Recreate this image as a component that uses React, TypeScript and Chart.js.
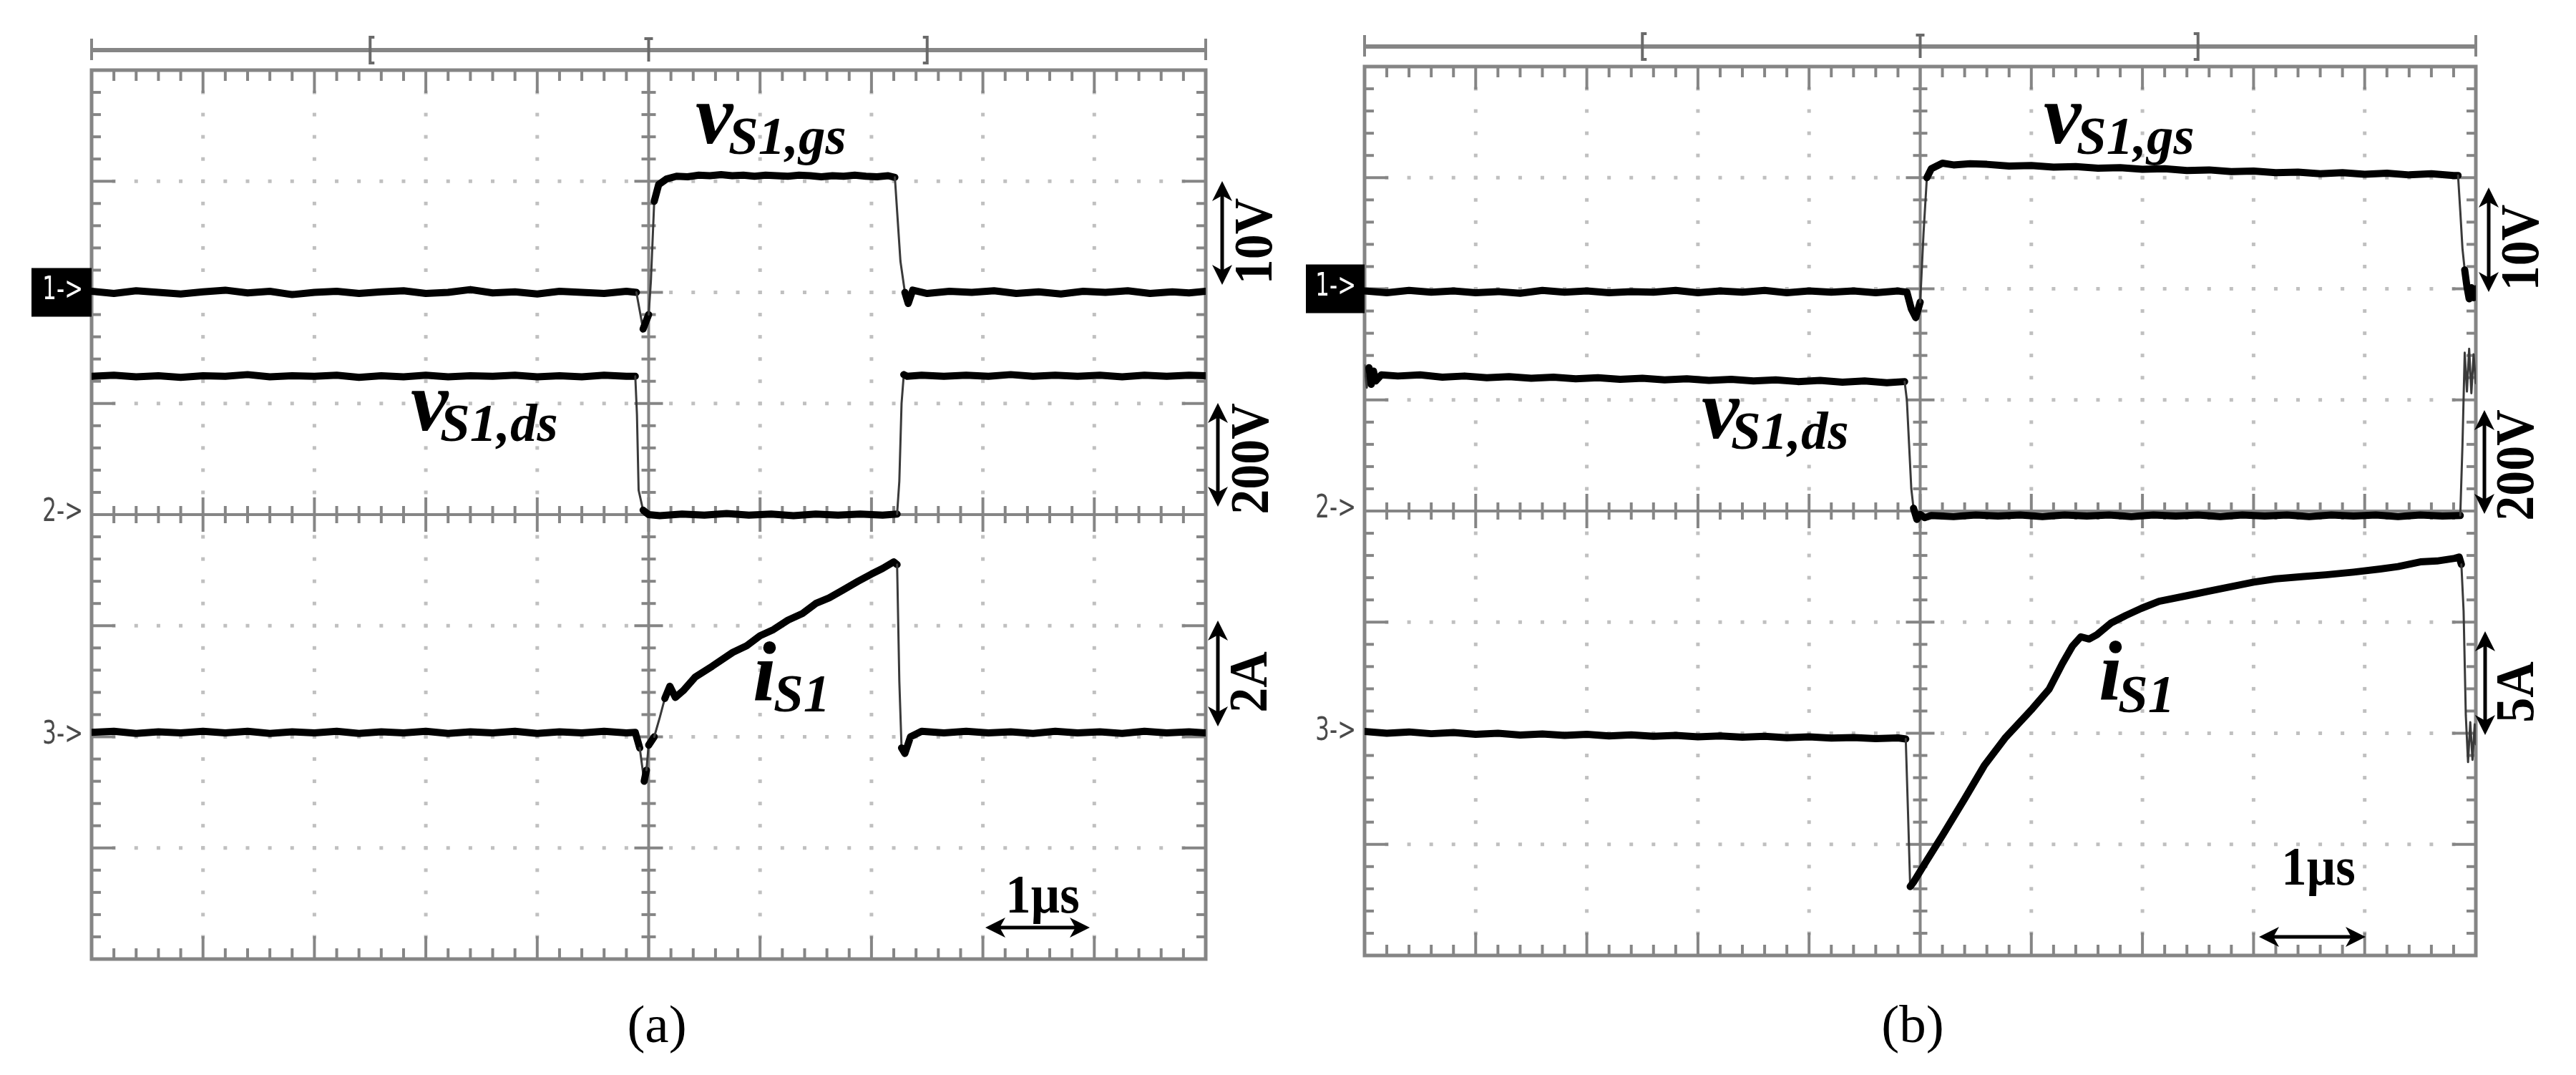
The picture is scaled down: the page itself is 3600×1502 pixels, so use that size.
import React, { useEffect, useRef } from 'react';
import { Chart, registerables } from 'chart.js';

Chart.register(...registerables);

type Pt = [number, number];

// ---------------- DATA ----------------
// time axis: µs (1 µs/div, 10 div), vertical: 8 divisions
const TIME_MIN = -5;
const TIME_MAX = 5;
const DIV_MIN = -4;
const DIV_MAX = 4;

// channel reference levels (div) for 1->, 2->, 3->
const CHANNEL_POS = [2, 0, -2];
const MARKER_TEXT = ['1->', '2->', '3->'];
const TRACE_LABELS: [string, string][] = [['v', 'S1,gs'], ['v', 'S1,ds'], ['i', 'S1']];
const TIME_TEXT = '1µs';

// panel (a)
const A_PER_DIV = [10, 200, 2];
const A_SCALE_TEXT = ['10V', '200V', '2A'];
const A_VGS: Pt[] = [
  [-5.0, 0.1], [-4.8, -0.1], [-4.6, 0.15], [-4.4, 0.0], [-4.2, -0.15], [-4.0, 0.05], [-3.8, 0.2], [-3.6, -0.05],
  [-3.4, 0.1], [-3.2, -0.2], [-3.0, 0.0], [-2.8, 0.1], [-2.6, -0.1], [-2.4, 0.05], [-2.2, 0.15], [-2.0, -0.1],
  [-1.8, 0.0], [-1.6, 0.25], [-1.4, -0.05], [-1.2, 0.05], [-1.0, -0.15], [-0.8, 0.1], [-0.6, 0.0], [-0.4, -0.1],
  [-0.2, 0.1], [-0.11, 0.0], [-0.05, -3.3], [0.0, -2.0], [0.02, 1.0], [0.05, 8.2], [0.09, 9.7], [0.16, 10.2],
  [0.25, 10.45], [0.35, 10.4], [0.45, 10.55], [0.55, 10.5], [0.65, 10.6], [0.75, 10.5], [0.85, 10.55], [0.95, 10.45],
  [1.05, 10.55], [1.15, 10.5], [1.25, 10.45], [1.35, 10.55], [1.45, 10.5], [1.55, 10.4], [1.65, 10.5], [1.75, 10.45],
  [1.85, 10.55], [1.95, 10.45], [2.05, 10.4], [2.15, 10.5], [2.21, 10.35], [2.26, 2.8], [2.3, 0.0], [2.33, -1.0],
  [2.37, 0.2], [2.5, -0.1], [2.7, 0.1], [2.9, 0.0], [3.1, 0.15], [3.3, -0.1], [3.5, 0.05], [3.7, -0.15],
  [3.9, 0.1], [4.1, 0.0], [4.3, 0.15], [4.5, -0.1], [4.7, 0.05], [4.85, -0.05], [5.0, 0.1],
];
const A_VDS: Pt[] = [
  [-5.0, 249], [-4.8, 251], [-4.6, 248], [-4.4, 250], [-4.2, 247], [-4.0, 250], [-3.8, 249], [-3.6, 252],
  [-3.4, 248], [-3.2, 250], [-3.0, 249], [-2.8, 251], [-2.6, 247], [-2.4, 250], [-2.2, 248], [-2.0, 251],
  [-1.8, 248], [-1.6, 250], [-1.4, 249], [-1.2, 251], [-1.0, 248], [-0.8, 250], [-0.6, 248], [-0.4, 251],
  [-0.2, 249], [-0.12, 249], [-0.105, 180], [-0.09, 44], [-0.05, 8], [0.0, 0], [0.1, -2], [0.3, 1],
  [0.5, -1], [0.7, 2], [0.9, -1], [1.1, 1], [1.3, -2], [1.5, 1], [1.7, -1], [1.9, 1],
  [2.1, -1], [2.23, 1], [2.25, 60], [2.27, 200], [2.29, 252], [2.32, 249], [2.45, 251], [2.65, 249],
  [2.85, 251], [3.05, 249], [3.25, 252], [3.45, 249], [3.65, 251], [3.85, 249], [4.05, 251], [4.25, 248],
  [4.45, 251], [4.65, 249], [4.85, 251], [5.0, 250],
];
const A_IS: Pt[] = [
  [-5.0, 0.08], [-4.8, 0.1], [-4.6, 0.06], [-4.4, 0.09], [-4.2, 0.07], [-4.0, 0.1], [-3.8, 0.07], [-3.6, 0.1],
  [-3.4, 0.06], [-3.2, 0.09], [-3.0, 0.07], [-2.8, 0.1], [-2.6, 0.06], [-2.4, 0.09], [-2.2, 0.07], [-2.0, 0.1],
  [-1.8, 0.06], [-1.6, 0.09], [-1.4, 0.07], [-1.2, 0.1], [-1.0, 0.06], [-0.8, 0.09], [-0.6, 0.07], [-0.4, 0.1],
  [-0.2, 0.07], [-0.12, 0.08], [-0.08, -0.2], [-0.04, -0.8], [-0.02, -0.6], [0.0, -0.15], [0.05, 0.0], [0.1, 0.35],
  [0.145, 0.69], [0.19, 0.91], [0.24, 0.71], [0.31, 0.83], [0.42, 1.08], [0.57, 1.27], [0.755, 1.52], [0.88, 1.64],
  [1.0, 1.82], [1.12, 1.93], [1.25, 2.1], [1.38, 2.22], [1.5, 2.4], [1.62, 2.5], [1.75, 2.65], [1.88, 2.8],
  [2.0, 2.93], [2.1, 3.03], [2.2, 3.15], [2.23, 3.1], [2.25, 1.0], [2.27, -0.2], [2.3, -0.3], [2.35, 0.0],
  [2.45, 0.1], [2.65, 0.07], [2.85, 0.1], [3.05, 0.07], [3.25, 0.09], [3.45, 0.06], [3.65, 0.1], [3.85, 0.07],
  [4.05, 0.09], [4.25, 0.06], [4.45, 0.1], [4.65, 0.07], [4.85, 0.09], [5.0, 0.07],
];

// panel (b)
const B_PER_DIV = [10, 200, 5];
const B_SCALE_TEXT = ['10V', '200V', '5A'];
const B_VGS: Pt[] = [
  [-5.0, -0.2], [-4.8, -0.35], [-4.6, -0.15], [-4.4, -0.3], [-4.2, -0.2], [-4.0, -0.35], [-3.8, -0.25], [-3.6, -0.4],
  [-3.4, -0.15], [-3.2, -0.3], [-3.0, -0.2], [-2.8, -0.35], [-2.6, -0.25], [-2.4, -0.3], [-2.2, -0.15], [-2.0, -0.35],
  [-1.8, -0.2], [-1.6, -0.3], [-1.4, -0.15], [-1.2, -0.35], [-1.0, -0.2], [-0.8, -0.3], [-0.6, -0.2], [-0.4, -0.35],
  [-0.2, -0.2], [-0.12, -0.3], [-0.08, -1.8], [-0.04, -2.6], [0.0, -1.2], [0.03, 5.0], [0.06, 10.0], [0.1, 10.8],
  [0.2, 11.3], [0.3, 11.15], [0.45, 11.25], [0.6, 11.2], [0.8, 11.05], [1.0, 11.1], [1.2, 10.95], [1.4, 11.0],
  [1.6, 10.85], [1.8, 10.9], [2.0, 10.75], [2.2, 10.8], [2.4, 10.65], [2.6, 10.7], [2.8, 10.55], [3.0, 10.6],
  [3.2, 10.45], [3.4, 10.5], [3.6, 10.35], [3.8, 10.45], [4.0, 10.3], [4.2, 10.4], [4.4, 10.25], [4.6, 10.35],
  [4.8, 10.2], [4.84, 10.2], [4.86, 7.0], [4.88, 3.6], [4.9, 1.7], [4.92, 0.2], [4.94, -0.9], [4.96, 0.1],
  [4.98, -0.8], [5.0, 0.0],
];
const B_VDS: Pt[] = [
  [-5.0, 262], [-4.98, 222], [-4.96, 258], [-4.94, 228], [-4.92, 252], [-4.9, 234], [-4.85, 245], [-4.7, 243],
  [-4.5, 245], [-4.3, 241], [-4.1, 243], [-3.9, 240], [-3.7, 242], [-3.5, 239], [-3.3, 241], [-3.1, 238],
  [-2.9, 240], [-2.7, 237], [-2.5, 239], [-2.3, 236], [-2.1, 238], [-1.9, 235], [-1.7, 237], [-1.5, 234],
  [-1.3, 236], [-1.1, 233], [-0.9, 235], [-0.7, 232], [-0.5, 234], [-0.3, 231], [-0.14, 233], [-0.12, 200],
  [-0.1, 120], [-0.08, 40], [-0.06, 5], [-0.03, -15], [0.0, -6], [0.04, -12], [0.1, -8], [0.3, -10],
  [0.5, -7], [0.7, -9], [0.9, -7], [1.1, -10], [1.3, -7], [1.5, -9], [1.7, -7], [1.9, -10],
  [2.1, -7], [2.3, -9], [2.5, -7], [2.7, -10], [2.9, -7], [3.1, -9], [3.3, -7], [3.5, -10],
  [3.7, -7], [3.9, -9], [4.1, -7], [4.3, -10], [4.5, -7], [4.7, -9], [4.86, -8], [4.88, 120],
  [4.9, 285], [4.92, 215], [4.94, 292], [4.96, 212], [4.98, 282], [5.0, 230],
];
const B_IS: Pt[] = [
  [-5.0, 0.08], [-4.8, 0.0], [-4.6, 0.06], [-4.4, -0.02], [-4.2, 0.03], [-4.0, -0.05], [-3.8, 0.0], [-3.6, -0.08],
  [-3.4, -0.03], [-3.2, -0.1], [-3.0, -0.05], [-2.8, -0.12], [-2.6, -0.07], [-2.4, -0.14], [-2.2, -0.1], [-2.0, -0.16],
  [-1.8, -0.12], [-1.6, -0.18], [-1.4, -0.14], [-1.2, -0.2], [-1.0, -0.16], [-0.8, -0.22], [-0.6, -0.19], [-0.4, -0.24],
  [-0.2, -0.21], [-0.13, -0.26], [-0.11, -3.5], [-0.09, -6.9], [-0.06, -6.7], [0.05, -5.8], [0.2, -4.6], [0.4, -2.95],
  [0.576, -1.46], [0.77, -0.18], [1.01, 1.11], [1.16, 1.98], [1.28, 3.14], [1.37, 3.92], [1.445, 4.34], [1.52, 4.24],
  [1.59, 4.43], [1.72, 4.97], [1.85, 5.3], [1.99, 5.62], [2.15, 5.94], [2.41, 6.2], [2.6, 6.4], [2.8, 6.6],
  [3.0, 6.8], [3.2, 6.95], [3.45, 7.05], [3.65, 7.13], [3.9, 7.25], [4.14, 7.39], [4.3, 7.5], [4.5, 7.71],
  [4.65, 7.75], [4.81, 7.87], [4.85, 7.93], [4.87, 7.6], [4.89, 5.5], [4.91, 0.8], [4.93, -1.3], [4.95, 0.5],
  [4.97, -1.2], [4.99, 0.4], [5.0, -0.5],
];

// ---------------- LAYOUT / STYLE ----------------
type PanelCfg = {
  left: number;
  padding: { left: number; right: number; top: number; bottom: number };
  traces: Pt[][];
  perDiv: number[];
  scaleText: string[];
  markerBox: { x: number; w: number };
  labelPos: { x: number; y: number; sx: number; sy: number }[];
  scaleArrows: { ax: number; y1: number; y2: number; tx: number; cy: number }[];
  timeArrow: { x1: number; x2: number; y: number; tcx: number; tby: number };
  caption: { text: string; cx: number; by: number };
};

const W = 1800;
const H = 1502;

const PANEL_A: PanelCfg = {
  left: 0,
  padding: { left: 128, right: W - 1685, top: 98, bottom: H - 1340 },
  traces: [A_VGS, A_VDS, A_IS],
  perDiv: A_PER_DIV,
  scaleText: A_SCALE_TEXT,
  markerBox: { x: 44, w: 84 },
  labelPos: [
    { x: 972, y: 200, sx: 1018, sy: 215 },
    { x: 574, y: 601, sx: 615, sy: 616 },
    { x: 1052, y: 978, sx: 1081, sy: 994 },
  ],
  scaleArrows: [
    { ax: 1708, y1: 253, y2: 398, tx: 1777, cy: 337 },
    { ax: 1702, y1: 563, y2: 708, tx: 1772, cy: 641 },
    { ax: 1702, y1: 867, y2: 1015, tx: 1770, cy: 953 },
  ],
  timeArrow: { x1: 1377, x2: 1523, y: 1296, tcx: 1457, tby: 1275 },
  caption: { text: '(a)', cx: 918, by: 1456 },
};

const PANEL_B: PanelCfg = {
  left: 1800,
  padding: { left: 107, right: W - 1660, top: 93, bottom: H - 1335 },
  traces: [B_VGS, B_VDS, B_IS],
  perDiv: B_PER_DIV,
  scaleText: B_SCALE_TEXT,
  markerBox: { x: 25, w: 82 },
  labelPos: [
    { x: 1056, y: 200, sx: 1102, sy: 215 },
    { x: 578, y: 612, sx: 619, sy: 627 },
    { x: 1133, y: 977, sx: 1160, sy: 995 },
  ],
  scaleArrows: [
    { ax: 1678, y1: 262, y2: 408, tx: 1747, cy: 346 },
    { ax: 1672, y1: 573, y2: 718, tx: 1740, cy: 650 },
    { ax: 1673, y1: 882, y2: 1027, tx: 1740, cy: 967 },
  ],
  timeArrow: { x1: 1357, x2: 1506, y: 1309, tcx: 1440, tby: 1236 },
  caption: { text: '(b)', cx: 873, by: 1456 },
};

const FRAME = '#858585';
const DOT = '#c0c0c0';
const SERIF = '"Liberation Serif", "Times New Roman", serif';
const NARROW = '"DejaVu Sans Condensed", "Liberation Sans Narrow", "DejaVu Sans", sans-serif';

function line(ctx: CanvasRenderingContext2D, x1: number, y1: number, x2: number, y2: number) {
  ctx.beginPath();
  ctx.moveTo(x1, y1);
  ctx.lineTo(x2, y2);
  ctx.stroke();
}

const graticulePlugin = {
  id: 'graticule',
  beforeDatasetsDraw(chart: any) {
    const { ctx, chartArea: a, scales } = chart;
    const px = (v: number) => scales.x.getPixelForValue(v);
    const py = (v: number) => scales.y.getPixelForValue(v);
    ctx.save();
    // dotted grid
    ctx.fillStyle = DOT;
    for (let i = -4; i <= 4; i++) {
      if (i === 0) continue;
      for (let j = -19; j <= 19; j++) {
        if (j === 0) continue;
        ctx.fillRect(px(i) - 2.5, py(j / 5) - 2.5, 5, 5);
      }
    }
    for (let i = -3; i <= 3; i++) {
      if (i === 0) continue;
      for (let k = -24; k <= 24; k++) {
        if (k === 0) continue;
        ctx.fillRect(px(k / 5) - 2.5, py(i) - 2.5, 5, 5);
      }
    }
    ctx.strokeStyle = FRAME;
    ctx.lineWidth = 4;
    // center lines
    line(ctx, px(0), a.top, px(0), a.bottom);
    line(ctx, a.left, py(0), a.right, py(0));
    // ticks
    for (let k = -24; k <= 24; k++) {
      const x = px(k / 5);
      const major = k % 5 === 0;
      const len = major ? 32 : 15;
      line(ctx, x, a.top, x, a.top + len);
      line(ctx, x, a.bottom, x, a.bottom - len);
      const h = major ? 24 : 12;
      line(ctx, x, py(0) - h, x, py(0) + h);
    }
    for (let j = -19; j <= 19; j++) {
      const y = py(j / 5);
      const major = j % 5 === 0;
      const len = major ? 33 : 13;
      line(ctx, a.left, y, a.left + len, y);
      line(ctx, a.right, y, a.right - len, y);
      const h = major ? 20 : 10;
      line(ctx, px(0) - h, y, px(0) + h, y);
    }
    // frame
    ctx.lineWidth = 5;
    ctx.strokeRect(a.left, a.top, a.right - a.left, a.bottom - a.top);
    ctx.restore();
  },
};

function arrowHead(ctx: CanvasRenderingContext2D, tx: number, ty: number, dx: number, dy: number) {
  const hl = 28;
  const hw = 14;
  const bx = tx - dx * hl;
  const by = ty - dy * hl;
  const nx = -dy;
  const ny = dx;
  ctx.beginPath();
  ctx.moveTo(tx, ty);
  ctx.lineTo(bx + nx * hw, by + ny * hw);
  ctx.lineTo(tx - dx * hl * 0.72, ty - dy * hl * 0.72);
  ctx.lineTo(bx - nx * hw, by - ny * hw);
  ctx.closePath();
  ctx.fill();
}

function makeDecor(cfg: PanelCfg) {
  return {
    id: 'decor',
    afterDraw(chart: any) {
      const { ctx, chartArea: a, scales } = chart;
      const px = (v: number) => scales.x.getPixelForValue(v);
      const py = (v: number) => scales.y.getPixelForValue(v);
      ctx.save();

      // top ruler
      const ry = a.top - 28;
      ctx.strokeStyle = FRAME;
      ctx.lineWidth = 6;
      line(ctx, px(TIME_MIN), ry, px(TIME_MAX), ry);
      ctx.lineWidth = 4;
      line(ctx, px(TIME_MIN), ry - 16, px(TIME_MIN), ry + 14);
      line(ctx, px(TIME_MAX), ry - 16, px(TIME_MAX), ry + 14);
      ctx.strokeStyle = '#6a6a6a';
      const bl = px(-2.5);
      const br = px(2.5);
      ctx.beginPath();
      ctx.moveTo(bl + 6, ry - 18); ctx.lineTo(bl, ry - 18); ctx.lineTo(bl, ry + 18); ctx.lineTo(bl + 6, ry + 18);
      ctx.stroke();
      ctx.beginPath();
      ctx.moveTo(br - 6, ry - 18); ctx.lineTo(br, ry - 18); ctx.lineTo(br, ry + 18); ctx.lineTo(br - 6, ry + 18);
      ctx.stroke();
      const c0 = px(0);
      line(ctx, c0, ry - 16, c0, ry + 16);
      line(ctx, c0 - 6, ry - 16, c0 + 6, ry - 16);

      // channel markers
      CHANNEL_POS.forEach((lv, idx) => {
        const y = py(lv);
        if (idx === 0) {
          ctx.fillStyle = '#000';
          ctx.fillRect(cfg.markerBox.x, y - 34, cfg.markerBox.w, 68);
          ctx.fillStyle = '#fff';
        } else {
          ctx.fillStyle = '#4a4a4a';
        }
        ctx.save();
        ctx.translate(a.left - 12, y - 2);
        ctx.scale(0.78, 1);
        ctx.font = `44px ${NARROW}`;
        ctx.textBaseline = 'middle';
        ctx.textAlign = 'right';
        ctx.fillText(MARKER_TEXT[idx], 0, 0);
        ctx.restore();
      });

      // trace labels
      ctx.fillStyle = '#000';
      ctx.textAlign = 'left';
      ctx.textBaseline = 'alphabetic';
      TRACE_LABELS.forEach(([m, s], idx) => {
        const p = cfg.labelPos[idx];
        ctx.font = `italic bold 118px ${SERIF}`;
        ctx.fillText(m, p.x, p.y);
        ctx.font = `italic bold 75px ${SERIF}`;
        ctx.fillText(s, p.sx, p.sy);
      });

      // scale arrows and texts
      ctx.strokeStyle = '#000';
      ctx.fillStyle = '#000';
      cfg.scaleArrows.forEach((s, idx) => {
        ctx.lineWidth = 5;
        line(ctx, s.ax, s.y1 + 20, s.ax, s.y2 - 20);
        arrowHead(ctx, s.ax, s.y1, 0, -1);
        arrowHead(ctx, s.ax, s.y2, 0, 1);
        ctx.save();
        ctx.translate(s.tx, s.cy);
        ctx.rotate(-Math.PI / 2);
        ctx.scale(0.92, 1);
        ctx.font = `bold 76px ${SERIF}`;
        ctx.textAlign = 'center';
        ctx.textBaseline = 'alphabetic';
        ctx.fillText(cfg.scaleText[idx], 0, 0);
        ctx.restore();
      });

      // time scale arrow
      const t = cfg.timeArrow;
      ctx.lineWidth = 5;
      line(ctx, t.x1 + 20, t.y, t.x2 - 20, t.y);
      arrowHead(ctx, t.x1, t.y, -1, 0);
      arrowHead(ctx, t.x2, t.y, 1, 0);
      ctx.save();
      ctx.translate(t.tcx, t.tby);
      ctx.scale(0.93, 1);
      ctx.font = `bold 76px ${SERIF}`;
      ctx.textAlign = 'center';
      ctx.fillText(TIME_TEXT, 0, 0);
      ctx.restore();

      // caption
      ctx.font = `75px ${SERIF}`;
      ctx.textAlign = 'center';
      ctx.fillText(cfg.caption.text, cfg.caption.cx, cfg.caption.by);
      ctx.restore();
    },
  };
}

const steep = (c: any) => {
  const dx = Math.abs(c.p1.x - c.p0.x);
  const dy = Math.abs(c.p1.y - c.p0.y);
  return dy > 25 && dy > 3 * dx;
};

function ScopePanel({ cfg }: { cfg: PanelCfg }) {
  const ref = useRef<HTMLCanvasElement>(null);
  useEffect(() => {
    const canvas = ref.current!;
    const chart = new Chart(canvas, {
      type: 'line',
      data: {
        datasets: cfg.traces.map((tr, idx) => ({
          label: TRACE_LABELS[idx].join('_'),
          data: tr.map(([tt, v]) => ({ x: tt, y: CHANNEL_POS[idx] + v / cfg.perDiv[idx] })),
          borderColor: '#000',
          borderWidth: 10,
          borderJoinStyle: 'round',
          borderCapStyle: 'round',
          pointRadius: 0,
          tension: 0,
          fill: false,
          segment: {
            borderWidth: (c: any) => (steep(c) ? 3 : 10),
            borderColor: (c: any) => (steep(c) ? '#3a3a3a' : '#000'),
          },
        })),
      },
      options: {
        animation: false,
        responsive: false,
        devicePixelRatio: 1,
        events: [],
        layout: { padding: cfg.padding },
        plugins: { legend: { display: false }, tooltip: { enabled: false } },
        scales: {
          x: { type: 'linear', min: TIME_MIN, max: TIME_MAX, display: false },
          y: { type: 'linear', min: DIV_MIN, max: DIV_MAX, display: false },
        },
      } as any,
      plugins: [graticulePlugin, makeDecor(cfg)],
    });
    return () => chart.destroy();
  }, [cfg]);
  return (
    <canvas
      ref={ref}
      width={W}
      height={H}
      style={{ position: 'absolute', left: cfg.left, top: 0, width: W, height: H }}
    />
  );
}

export default function App() {
  return (
    <div style={{ position: 'absolute', left: 0, top: 0, width: 3600, height: 1502, background: '#fff', overflow: 'hidden' }}>
      <ScopePanel cfg={PANEL_A} />
      <ScopePanel cfg={PANEL_B} />
    </div>
  );
}
